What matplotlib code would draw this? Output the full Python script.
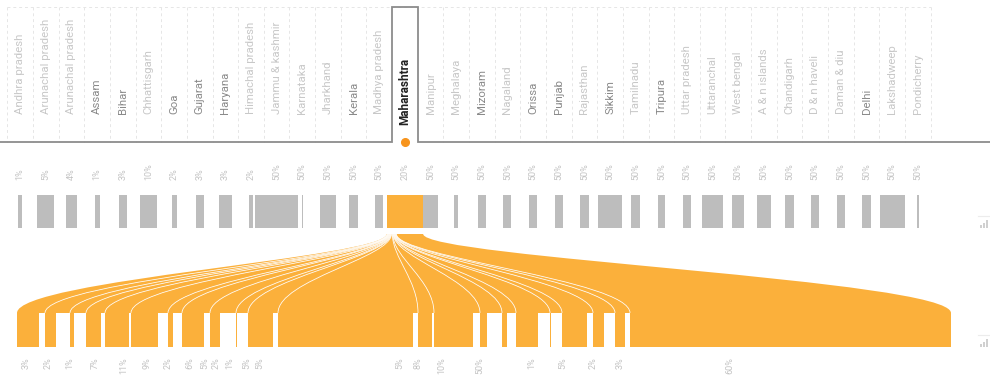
import matplotlib
matplotlib.use('Agg')
from matplotlib import pyplot as plt
from matplotlib.path import Path
from matplotlib.patches import PathPatch, Rectangle

plt.rcParams['font.family'] = ['Roboto', 'DejaVu Sans']

# top dimension: states
states = ['Andhra pradesh', 'Arunachal pradesh', 'Arunachal pradesh', 'Assam', 'Bihar',
          'Chhattisgarh', 'Goa', 'Gujarat', 'Haryana', 'Himachal pradesh', 'Jammu & kashmir',
          'Karnataka', 'Jharkhand', 'Kerala', 'Madhya pradesh', 'Maharashtra', 'Manipur',
          'Meghalaya', 'Mizoram', 'Nagaland', 'Orissa', 'Punjab', 'Rajasthan', 'Sikkim',
          'Tamilnadu', 'Tripura', 'Uttar pradesh', 'Uttaranchal', 'West bengal', 'A & n islands',
          'Chandigarh', 'D & n haveli', 'Daman & diu', 'Delhi', 'Lakshadweep', 'Pondicherry']
darker_states = ['Assam', 'Bihar', 'Goa', 'Gujarat', 'Haryana', 'Kerala', 'Mizoram', 'Orissa',
                 'Punjab', 'Sikkim', 'Tripura', 'Delhi']
selected = 'Maharashtra'
state_pct = [1, 5, 4, 1, 3, 10, 2, 3, 3, 2, 50, 50, 50, 50, 50, 20, 50, 50, 50, 50, 50, 50,
             50, 50, 50, 50, 50, 50, 50, 50, 50, 50, 50, 50, 50, 50]
state_size = [4, 17.4, 11, 5, 7.6, 16.7, 5, 7.7, 12.7, 4, 43.3, 1, 16, 8.4, 8.3, 36.6, 15.7, 4,
              8, 8, 8, 8.3, 9, 24.3, 8.6, 6.7, 8.3, 21, 11.7, 14, 8.3, 8.3, 8, 8.3, 24.6, 2]

# bottom dimension: share coming from the selected state
bottom_pct = ['3%', '2%', '1%', '7%', '11%', '9%', '2%', '6%', '5%', '2%', '1%', '5%', '5%',
              '5%', '8%', '10%', '50%', '1%', '5%', '2%', '3%', '60%']
bottom_label_x = [26, 48, 70, 95, 124, 147, 168, 190, 205, 216, 230, 247, 260, 400, 418, 442,
                  480, 532, 563, 593, 620, 730]
selected_width = [22, 11, 4, 15, 24, 27, 5, 22, 10, 1, 25, 135, 14, 39, 7, 5, 22, 1, 25, 11,
                  10, 321]
other_width = [6, 14, 12, 4, 2, 10, 9, 6, 16, 11, 5, 5, 2, 7, 15, 9, 12, 11, 6, 11, 5, 0]
source_share = [1, 1, 1, 1, 1, 1, 1, 1, 1, 1, 1, 2, 1, 1, 1, 1, 1, 1, 1, 1, 1, 60]

ORANGE = '#fbb03b'
GREY_BAR = '#bdbdbd'

# layout (pixel-like units)
col_left, col_step = 7.3, 25.65
grid_top, grid_bottom = 7, 142
bar_top, bar_bottom = 195, 228
ribbon_top, ribbon_bottom = 234, 313
bottom_bar_bottom = 347
bottom_left = 17


def ribbon_edge(xs, xt, y0, y1):
    dy = y1 - y0
    return [(xs, y0), (xs, y0 + 0.3 * dy), (xt, y1 - 0.42 * dy), (xt, y1)]


def ribbon_path(xs0, xs1, xt0, xt1, y0, y1):
    left = ribbon_edge(xs0, xt0, y0, y1)
    right = ribbon_edge(xs1, xt1, y0, y1)[::-1]
    verts = left + right + [left[0]]
    codes = ([Path.MOVETO] + [Path.CURVE4] * 3 + [Path.LINETO] + [Path.CURVE4] * 3
             + [Path.CLOSEPOLY])
    return Path(verts, codes)


fig = plt.figure(figsize=(9.9, 3.82), dpi=100)
ax = fig.add_axes([0, 0, 1, 1])
ax.set_xlim(0, 990)
ax.set_ylim(382, 0)
ax.axis('off')

n = len(states)
centers = [col_left + col_step * (i + 0.5) for i in range(n)]
sel = states.index(selected)
box_l = col_left + col_step * sel
box_r = box_l + col_step

# dashed column grid
ax.plot([col_left, col_left + col_step * n], [grid_top, grid_top], color='#e6e6e6',
        lw=0.7, ls=(0, (3, 3)))
for i in range(n + 1):
    x = col_left + col_step * i
    if i in (sel, sel + 1):
        continue
    ax.plot([x, x], [grid_top, grid_bottom], color='#e6e6e6', lw=0.7, ls=(0, (3, 3)))

# base line with the selected tab
ax.plot([0, box_l, box_l, box_r, box_r, 990],
        [grid_bottom, grid_bottom, grid_top, grid_top, grid_bottom, grid_bottom],
        color='#8c8c8c', lw=1.3, solid_joinstyle='miter')
ax.plot([centers[sel]], [grid_bottom], 'o', color='#f7941d', ms=5.5, zorder=5)

# state names
for i, name in enumerate(states):
    if name == selected:
        ax.text(centers[i], 125, name, rotation=90, ha='center', va='bottom',
                fontsize=8.5, fontweight='bold', color='#222222')
    else:
        color = '#8a8a8a' if name in darker_states else '#c8c8c8'
        ax.text(centers[i], 114, name, rotation=90, ha='center', va='bottom',
                fontsize=8.2, color=color)

# state bars + percentages
for i in range(n):
    color = ORANGE if i == sel else GREY_BAR
    ax.add_patch(Rectangle((centers[i] - state_size[i] / 2, bar_top), state_size[i],
                           bar_bottom - bar_top, facecolor=color, edgecolor='none'))
    ax.text(centers[i], 180, '%d%%' % state_pct[i], rotation=90, ha='center', va='bottom',
            fontsize=6.5, color='#c4c4c4')

# ribbons from the selected state down to the bottom categories
src_l = centers[sel] - state_size[sel] / 2
src_w = state_size[sel]
total_share = sum(source_share)
xs = src_l
xt = bottom_left
for i in range(len(selected_width)):
    xs1 = xs + src_w * source_share[i] / total_share
    xt1 = xt + selected_width[i] + other_width[i]
    ax.add_patch(PathPatch(ribbon_path(xs, xs1, xt, xt1, ribbon_top, ribbon_bottom),
                           facecolor=ORANGE, edgecolor='none', zorder=2))
    if i > 0:
        edge = Path(ribbon_edge(xs, xt, ribbon_top, ribbon_bottom),
                    [Path.MOVETO] + [Path.CURVE4] * 3)
        ax.add_patch(PathPatch(edge, facecolor='none', edgecolor='white', lw=0.6,
                               alpha=0.85, zorder=3))
    # bottom bar (only the selected part is filled)
    ax.add_patch(Rectangle((xt, ribbon_bottom), selected_width[i],
                           bottom_bar_bottom - ribbon_bottom, facecolor=ORANGE,
                           edgecolor='none', zorder=2))
    xs = xs1
    xt = xt1

for label, x in zip(bottom_pct, bottom_label_x):
    ax.text(x, 357, label, rotation=90, ha='center', va='top', fontsize=6.5, color='#c4c4c4')

# little chart icons on the right
for y in (228, 347):
    for k, h in enumerate([3, 5, 8]):
        ax.add_patch(Rectangle((980 + k * 3, y - h), 2, h, facecolor='#d0d0d0',
                               edgecolor='none'))
    ax.plot([978, 990], [y - 12, y - 12], color='#ececec', lw=0.8)

fig.savefig('out.png', dpi=100)
